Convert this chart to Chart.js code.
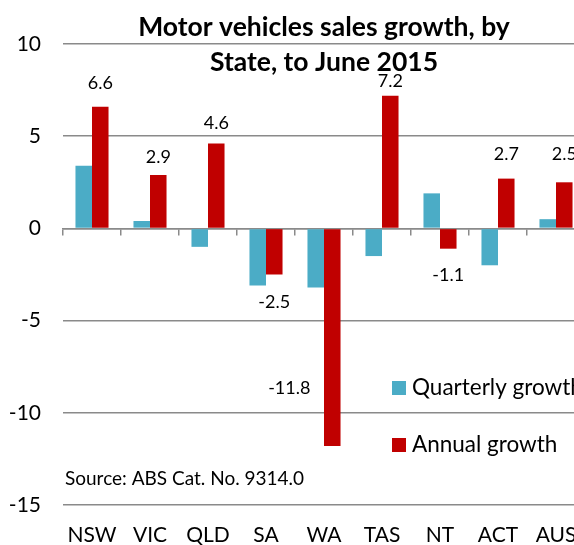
<!DOCTYPE html>
<html>
<head>
<meta charset="utf-8">
<script src="https://cdn.jsdelivr.net/npm/chart.js@4/dist/chart.umd.min.js"></script>
<style>
  html, body { margin: 0; padding: 0; background: #fff; overflow: hidden; }
  #wrap { width: 600px; height: 545px; }
</style>
</head>
<body>
<div id="wrap"><canvas id="chart" width="600" height="545"></canvas></div>
<script>
// Chart data
const states = ['NSW', 'VIC', 'QLD', 'SA', 'WA', 'TAS', 'NT', 'ACT', 'AUS'];
const quarterlyGrowth = [3.4, 0.4, -1.0, -3.1, -3.2, -1.5, 1.9, -2.0, 0.5];
const annualGrowth = [6.6, 2.9, 4.6, -2.5, -11.8, 7.2, -1.1, 2.7, 2.5];
const yTicks = [10, 5, 0, -5, -10, -15];

const titleLines = ['Motor vehicles sales growth, by', 'State, to June 2015'];
const sourceNote = 'Source: ABS Cat. No. 9314.0';

// Hand-placed label nudges (px) for the annual labels, like the original
const labelNudge = [[0, -24], [0, -18], [0, -20], [0, 28], [-43, -58], [0, -14], [0, 27], [0, -24], [0, -28]];

const FONT = 'Lato, "Open Sans", sans-serif';
const GRID = '#8a8a8a';

// Draws title, source note, legend and annual value labels
const overlayPlugin = {
    id: 'overlay',
    afterDraw(chart) {
        const ctx = chart.ctx;
        const area = chart.chartArea;
        ctx.save();
        ctx.fillStyle = '#000';

        // Title
        ctx.font = 'bold 26.5px ' + FONT;
        ctx.textAlign = 'center';
        ctx.textBaseline = 'middle';
        const cx = (area.left + area.right) / 2;
        ctx.fillText(titleLines[0], cx, 27);
        ctx.fillText(titleLines[1], cx, 62);

        // Value labels on annual bars
        ctx.font = '18px ' + FONT;
        const meta = chart.getDatasetMeta(1);
        meta.data.forEach((bar, i) => {
            const n = labelNudge[i] || [0, 0];
            ctx.fillText(annualGrowth[i].toFixed(1), bar.x + n[0], bar.y + n[1]);
        });

        // Source note
        ctx.font = '19px ' + FONT;
        ctx.textAlign = 'left';
        ctx.fillText(sourceNote, area.left + 2, 479);

        // Legend
        ctx.font = '22.5px ' + FONT;
        chart.data.datasets.forEach((ds, i) => {
            const y = 388 + i * 57;
            ctx.fillStyle = ds.backgroundColor;
            ctx.fillRect(392, y - 7, 14, 14);
            ctx.fillStyle = '#000';
            ctx.fillText(ds.label, 412, y);
        });
        ctx.restore();
    }
};

const ctx = document.getElementById('chart').getContext('2d');
new Chart(ctx, {
    type: 'bar',
    data: {
        labels: states,
        datasets: [
            {
                label: 'Quarterly growth',
                data: quarterlyGrowth,
                backgroundColor: '#4bacc6',
                categoryPercentage: 0.57,
                barPercentage: 1.0
            },
            {
                label: 'Annual growth',
                data: annualGrowth,
                backgroundColor: '#c00000',
                categoryPercentage: 0.57,
                barPercentage: 1.0
            }
        ]
    },
    options: {
        responsive: false,
        animation: false,
        layout: { padding: { top: 44, right: 15, left: 0, bottom: 0 } },
        plugins: {
            legend: { display: false },
            tooltip: { enabled: false }
        },
        scales: {
            x: {
                position: { y: 0 },
                afterFit(scale) { scale.height = 0; },
                grid: {
                    display: true,
                    drawOnChartArea: false,
                    drawTicks: true,
                    tickLength: 6,
                    color: GRID,
                    lineWidth: 1.5
                },
                border: { display: true, color: GRID, width: 1.5 },
                ticks: { display: false }
            },
            x2: {
                type: 'category',
                position: 'bottom',
                afterFit(scale) { scale.height = 40; },
                grid: { display: false, drawTicks: false },
                border: { display: false },
                ticks: {
                    color: '#000',
                    padding: 18,
                    font: { family: FONT, size: 21 },
                    maxRotation: 0,
                    autoSkip: false
                }
            },
            y: {
                min: -15,
                max: 10,
                afterFit(scale) { scale.width = 63; },
                afterBuildTicks(scale) {
                    scale.ticks = yTicks.map(v => ({ value: v }));
                },
                grid: {
                    color: GRID,
                    lineWidth: 1.5,
                    drawTicks: false
                },
                border: { display: false },
                ticks: {
                    color: '#000',
                    padding: 22,
                    font: { family: FONT, size: 21 }
                }
            }
        }
    },
    plugins: [overlayPlugin]
});
</script>
</body>
</html>
